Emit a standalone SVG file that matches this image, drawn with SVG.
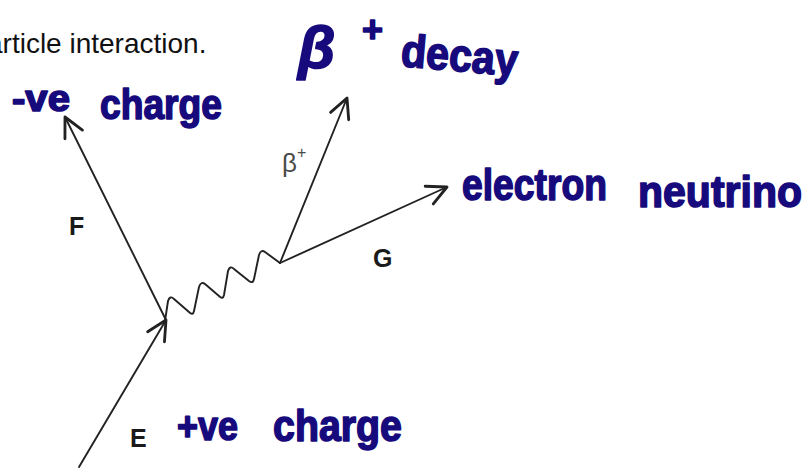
<svg xmlns="http://www.w3.org/2000/svg" width="808" height="473" viewBox="0 0 808 473">
<style>
  .ln{fill:none;stroke:#222;stroke-width:1.9;stroke-linecap:round;stroke-linejoin:round}
  .lbl{font-family:"Liberation Sans",Arial,sans-serif;font-weight:bold;font-size:25px;fill:#1a1a1a}
  .body{font-family:"Liberation Sans",Arial,sans-serif;font-size:28px;fill:#111}
  .hw{font-family:"Liberation Sans",Arial,sans-serif;font-weight:bold;fill:#160a7c;stroke:#160a7c;stroke-width:1.6;stroke-linejoin:round}
  .beta{font-family:"Liberation Sans",Arial,sans-serif;fill:#4a4a4a}
</style>
<defs>
  <marker id="arr" markerUnits="userSpaceOnUse" markerWidth="30" markerHeight="30" refX="0" refY="0" viewBox="-16 -10 20 20" orient="auto" overflow="visible">
    <path d="M-13,-6.5 L0,0 L-13,6.5" fill="none" stroke="#222" stroke-width="1.9" stroke-linecap="round" stroke-linejoin="round"/>
  </marker>
</defs>
<rect width="808" height="473" fill="#fff"/>

<text class="body" x="-13" y="53">article interaction.</text>

<g id="connectors">
  <line id="E-line" class="ln" x1="79" y1="467" x2="166" y2="320" marker-end="url(#arr)"/>
  <line id="F-line" class="ln" x1="166" y1="320" x2="65" y2="117" marker-end="url(#arr)"/>
  <path id="wave" class="ln" d="M165,321 L168,301 Q170,295 174,299 L189,312 Q193,316 194,311 L199,287 Q201,281 205,284 L219,296 Q223,300 224,295 L228,271 Q230,265 234,269 L249,281 Q253,284 254,279 L259,255 Q261,249 265,252 L280,263"/>
  <line id="beta-line" class="ln" x1="280" y1="263" x2="347" y2="98" marker-end="url(#arr)"/>
  <line id="G-line" class="ln" x1="280" y1="263" x2="447" y2="187" marker-end="url(#arr)"/>
</g>

<g id="label-F"><text class="lbl" x="69" y="235">F</text></g>
<g id="label-E"><text class="lbl" x="130" y="447">E</text></g>
<g id="label-G"><text class="lbl" x="373" y="267">G</text></g>
<g id="label-beta">
  <text class="beta" x="282" y="172" font-size="26">β</text>
  <text class="beta" x="297" y="158" font-size="16">+</text>
</g>

<g id="note-beta-decay">
  <text class="hw" x="298" y="68" font-size="60" font-style="italic">β</text>
  <text class="hw" x="362" y="42" font-size="36">+</text>
  <text class="hw" x="400" y="66" font-size="46" textLength="117" lengthAdjust="spacingAndGlyphs" transform="rotate(5 400 66)">decay</text>
</g>
<g id="note-neg-charge">
  <text class="hw" x="12" y="111" font-size="36" textLength="58" lengthAdjust="spacingAndGlyphs">-ve</text>
  <text class="hw" x="100" y="119" font-size="42" textLength="122" lengthAdjust="spacingAndGlyphs">charge</text>
</g>
<g id="note-electron-neutrino">
  <text class="hw" x="462" y="200" font-size="44" textLength="145" lengthAdjust="spacingAndGlyphs">electron</text>
  <text class="hw" x="638" y="207" font-size="44" textLength="164" lengthAdjust="spacingAndGlyphs">neutrino</text>
</g>
<g id="note-pos-charge">
  <text class="hw" x="177" y="440" font-size="40" textLength="61" lengthAdjust="spacingAndGlyphs">+ve</text>
  <text class="hw" x="273" y="441" font-size="44" textLength="129" lengthAdjust="spacingAndGlyphs">charge</text>
</g>
</svg>
